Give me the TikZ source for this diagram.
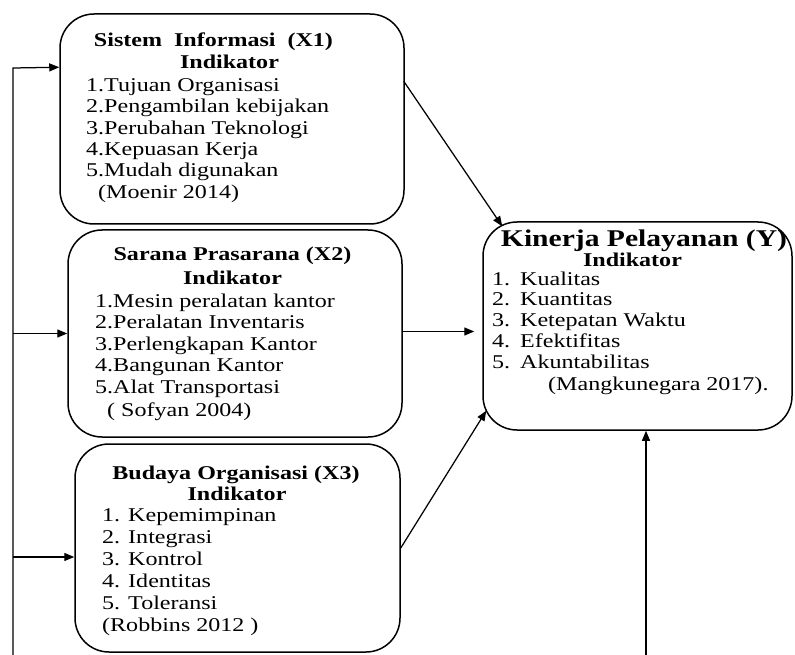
\documentclass[tikz,border=0pt]{standalone}
\usepackage{fontspec}
\setmainfont{Liberation Serif}[FakeStretch=1.233]
\usetikzlibrary{arrows.meta,calc}
\tikzset{
  box/.style={draw, line width=1.5pt, rounded corners=34pt, inner sep=0pt},
  txt/.style={inner sep=0pt, font=\fontsize{19.5}{22}\selectfont},
  ttl/.style={inner sep=0pt, anchor=base, font=\fontsize{19.5}{22}\selectfont\bfseries},
  bigttl/.style={inner sep=0pt, anchor=base, font=\fontsize{24}{27}\selectfont\bfseries},
  item/.style={txt, anchor=base west},
  arr/.style={line width=1.25pt, -{Triangle[length=10pt,width=8pt]}},
}
\begin{document}
\begin{tikzpicture}[x=1pt,y=-1pt]
\useasboundingbox (0,0) rectangle (795,655);
% boxes
\node[box, minimum width=344pt, minimum height=210pt] (X1) at (232,119) {};
\node[box, minimum width=334pt, minimum height=207pt] (X2) at (235,333.5) {};
\node[box, minimum width=325pt, minimum height=208pt] (X3) at (237.5,548) {};
\node[box, minimum width=309pt, minimum height=208pt] (Y) at (637.5,326) {};
% X1 text
\node[ttl] (x1t) at (213.5,46.7) {Sistem\ \ Informasi\ \ (X1)};
\node[ttl] (x1i) at (229.5,69) {Indikator};
\foreach \t [count=\i] in {1.Tujuan Organisasi, 2.Pengambilan kebijakan, 3.Perubahan Teknologi, 4.Kepuasan Kerja, 5.Mudah digunakan}
  \node[item] (x1l\i) at (86,{91.7+21.3*(\i-1)}) {\t};
\node[item] (x1s) at (98,198.3) {(Moenir 2014)};
% X2 text
\node[ttl] (x2t) at (232.5,260) {Sarana Prasarana (X2)};
\node[ttl] (x2i) at (232.5,284) {Indikator};
\foreach \t [count=\i] in {1.Mesin peralatan kantor, 2.Peralatan Inventaris, 3.Perlengkapan Kantor, 4.Bangunan Kantor, 5.Alat Transportasi}
  \node[item] (x2l\i) at (95,{307+21.5*(\i-1)}) {\t};
\node[item] (x2s) at (107,416) {( Sofyan 2004)};
% X3 text
\node[ttl] (x3t) at (236,479) {Budaya Organisasi (X3)};
\node[ttl] (x3i) at (237,500) {Indikator};
\foreach \t [count=\i] in {1. Kepemimpinan, 2. Integrasi, 3. Kontrol, 4. Identitas, 5. Toleransi}
  \node[item] (x3l\i) at (102,{521+22*(\i-1)}) {\t};
\node[item] (x3s) at (102,631) {(Robbins 2012 )};
% Y text
\node[bigttl] (yt) at (644,246) {Kinerja Pelayanan (Y)};
\node[ttl] (yi) at (632.5,266.7) {Indikator};
\foreach \t [count=\i] in {Kualitas, Kuantitas, Ketepatan Waktu, Efektifitas, Akuntabilitas}{
  \node[item] (yn\i) at (492,{285+20.8*(\i-1)}) {\i.};
  \node[item] (yl\i) at (520,{285+20.8*(\i-1)}) {\t};
}
\node[item] (ys) at (548,390) {(Mangkunegara 2017).};
% left feedback line
\coordinate (lb) at (13,655);
\coordinate (lt) at (13,68);
\draw[arr] (lb) -- (lt) -- ($(X1.north west)+(0,54)$);
\draw[arr] (lb |- X2.west) -- (X2.west);
\draw[arr] ($(lb |- X3.west)+(0,9)$) -- ($(X3.west)+(0,9)$);
% bottom line to Y
\coordinate (bb) at (646,655);
\draw[arr] (bb) -- (bb |- Y.south);
% arrows to Y
\draw[arr] ($(X1.north east)+(-1,68)$) -- ($(Y.north west)+(20,5)$);
\draw[arr, shorten >=8pt] ($(X2.east)+(0,-2)$) -- ($(Y.west |- X2.east)+(0,-2)$);
\draw[arr] (X3.east) -- ($(Y.south west)+(4,-20)$);
\end{tikzpicture}
\end{document}
